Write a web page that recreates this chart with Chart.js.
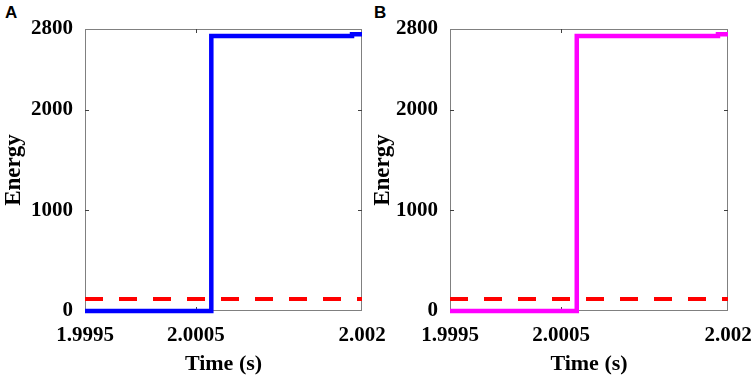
<!DOCTYPE html>
<html lang="en">
<head>
  <meta charset="UTF-8" />
  <title>Energy vs time</title>
  <script src="https://cdn.jsdelivr.net/npm/chart.js"></script>
  <style>
    body {
      margin: 0;
      background: #ffffff;
      width: 754px;
      height: 378px;
      position: relative;
      overflow: hidden;
    }
    .panel {
      position: absolute;
      top: 0;
      height: 378px;
    }
    .tag {
      position: absolute;
      top: 4px;
      font: bold 17px "Liberation Sans", Arial, sans-serif;
      line-height: 17px;
    }
  </style>
</head>
<body>
  <div class="tag" style="left:5px">A</div>
  <div class="tag" style="left:374px">B</div>
  <div class="panel" style="left:0;width:392px"><canvas id="chartA"></canvas></div>
  <div class="panel" style="left:369px;width:385px"><canvas id="chartB"></canvas></div>

  <script>
    // data
    const timeA = [1.9995, 2.00064, 2.00064, 2.00191, 2.00191, 2.002];
    const energyA = [0, 0, 2730, 2730, 2748, 2748];
    const timeB = [1.9995, 2.00064, 2.00064, 2.00191, 2.00191, 2.002];
    const energyB = [0, 0, 2730, 2730, 2748, 2748];
    const thresholdTime = [1.9995, 2.002];
    const thresholdEnergy = [120, 120];

    const xTicks = [1.9995, 2.0005, 2.002];
    const xTickLabels = ["1.9995", "2.0005", "2.002"];
    const yTicks = [0, 1000, 2000, 2800];

    const serif = "'Liberation Serif', 'Times New Roman', serif";

    // box round the plot + small inward ticks, matlab style
    const boxPlugin = {
      id: "box",
      beforeDatasetsDraw(chart) {
        const { ctx, chartArea: a, scales: { x, y } } = chart;
        ctx.save();
        ctx.strokeStyle = "#808080";
        ctx.lineWidth = 1;
        ctx.strokeRect(a.left + 0.5, a.top + 0.5, a.right - a.left - 1, a.bottom - a.top - 1);
        ctx.strokeStyle = "#404040";
        ctx.beginPath();
        xTicks.slice(1, -1).forEach(v => {
          const px = Math.round(x.getPixelForValue(v)) + 0.5;
          ctx.moveTo(px, a.bottom); ctx.lineTo(px, a.bottom - 4);
          ctx.moveTo(px, a.top); ctx.lineTo(px, a.top + 4);
        });
        yTicks.slice(1, -1).forEach(v => {
          const py = Math.round(y.getPixelForValue(v)) + 0.5;
          ctx.moveTo(a.left, py); ctx.lineTo(a.left + 4, py);
          ctx.moveTo(a.right, py); ctx.lineTo(a.right - 4, py);
        });
        ctx.stroke();
        ctx.restore();
      }
    };

    function makeChart(id, times, energies, color, yWidth, rightPad) {
      new Chart(document.getElementById(id), {
        type: "line",
        data: {
          datasets: [
            {
              data: thresholdTime.map((t, i) => ({ x: t, y: thresholdEnergy[i] })),
              borderColor: "#ff0000",
              borderWidth: 4,
              borderDash: [18, 16],
              pointRadius: 0,
              clip: false
            },
            {
              data: times.map((t, i) => ({ x: t, y: energies[i] })),
              borderColor: color,
              borderWidth: 4.5,
              pointRadius: 0,
              tension: 0,
              clip: false
            }
          ]
        },
        options: {
          responsive: true,
          maintainAspectRatio: false,
          animation: false,
          layout: { padding: { top: 29, right: rightPad, bottom: 0, left: 0 } },
          plugins: { legend: { display: false }, tooltip: { enabled: false } },
          scales: {
            x: {
              type: "linear",
              min: 1.9995,
              max: 2.002,
              afterBuildTicks: s => { s.ticks = xTicks.map(v => ({ value: v })); },
              afterFit: s => { s.height = 67; s.paddingLeft = 0; s.paddingRight = 0; },
              grid: { display: false, drawTicks: false },
              border: { display: false },
              ticks: {
                callback: (v, i) => xTickLabels[i],
                autoSkip: false,
                maxRotation: 0,
                padding: 12,
                color: "#000",
                font: { family: serif, size: 21, weight: "bold" }
              },
              title: {
                display: true,
                text: "Time (s)",
                color: "#000",
                padding: 0,
                font: { family: serif, size: 22, weight: "bold" }
              }
            },
            y: {
              min: 0,
              max: 2800,
              afterBuildTicks: s => { s.ticks = yTicks.map(v => ({ value: v })); },
              afterFit: s => { s.width = yWidth; s.paddingTop = 0; s.paddingBottom = 0; },
              grid: { display: false, drawTicks: false },
              border: { display: false },
              ticks: {
                callback: v => String(v),
                padding: 12,
                color: "#000",
                font: { family: serif, size: 21, weight: "bold" }
              },
              title: {
                display: true,
                text: "Energy",
                color: "#000",
                padding: 0,
                font: { family: serif, size: 23, weight: "bold" }
              }
            }
          }
        },
        plugins: [boxPlugin]
      });
    }

    makeChart("chartA", timeA, energyA, "#0000ff", 85, 30);
    makeChart("chartB", timeB, energyB, "#ff00ff", 81, 26);
  </script>
</body>
</html>
